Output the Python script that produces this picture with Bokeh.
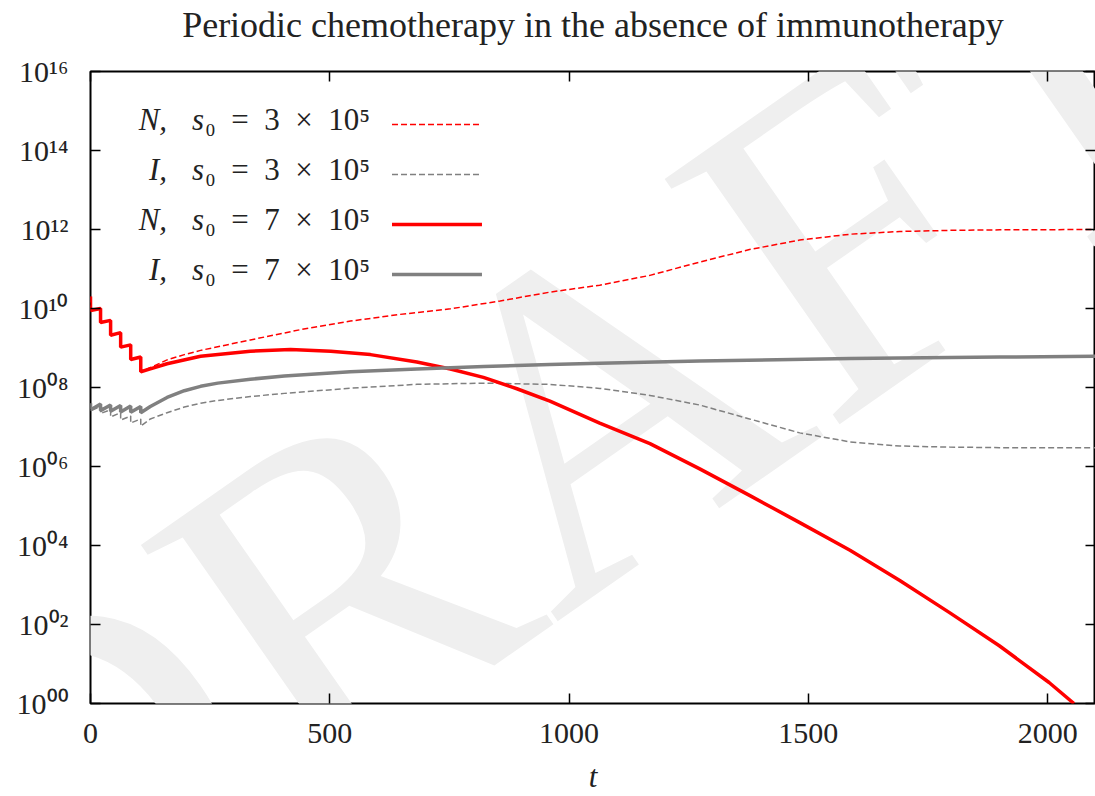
from bokeh.plotting import figure
from bokeh.models import Range1d, FixedTicker, CustomJSTickFormatter, LinearAxis, LogAxis, Label, Arrow
from bokeh.embed import file_html
from bokeh.resources import INLINE

TITLE = "Periodic chemotherapy in the absence of immunotherapy"
X_LABEL = "t"

# --- chemotherapy phase (doses every 21 days, t = 0 ... 105) ---
t_chemo = [0, 0, 21, 21, 42, 42, 63, 63, 84, 84, 105, 105]
N_chemo = [2.0e10, 8.9e9, 1.0e10, 4.4e9, 5.0e9, 2.1e9, 2.45e9, 1.05e9, 1.2e9, 5.1e8, 5.9e8, 2.5e8]
I7_chemo = [4.0e7, 2.7e7, 3.8e7, 2.6e7, 3.6e7, 2.5e7, 3.5e7, 2.4e7, 3.4e7, 2.35e7, 3.3e7, 2.3e7]
I3_chemo = [4.0e7, 2.6e7, 3.3e7, 2.2e7, 2.75e7, 1.8e7, 2.3e7, 1.5e7, 1.9e7, 1.26e7, 1.6e7, 1.05e7]

# --- N, s0 = 3e5 (after chemotherapy) ---
t_N3 = [125, 160, 196, 230, 334, 438, 543, 647, 752, 856, 960, 1064, 1169, 1273, 1377, 1482, 1587,
        1691, 1795, 1900, 2100]
N3 = [3.2e8, 5.0e8, 6.8e8, 8.7e8, 1.6e9, 2.9e9, 4.8e9, 7.1e9, 9.8e9, 1.55e10, 2.6e10, 3.9e10, 6.9e10,
      1.5e11, 3.1e11, 5.4e11, 7.6e11, 8.9e11, 9.5e11, 9.8e11, 1.0e12]

# --- I, s0 = 3e5 ---
t_I3 = [125, 160, 196, 230, 266, 334, 405, 543, 682, 822, 960, 1064, 1169, 1273, 1377, 1482, 1587,
        1691, 1795, 1900, 2100]
I3 = [1.6e7, 2.3e7, 3.2e7, 4.0e7, 4.7e7, 5.9e7, 7.1e7, 9.6e7, 1.2e8, 1.29e8, 1.2e8, 9.5e7, 6.3e7,
      3.6e7, 1.6e7, 7.1e6, 4.2e6, 3.3e6, 3.1e6, 3.0e6, 3.0e6]

# --- N, s0 = 7e5 ---
t_N7 = [125, 160, 230, 334, 418, 502, 585, 682, 752, 821, 891, 960, 1064, 1169, 1273, 1377, 1482,
        1587, 1691, 1795, 1899, 2003, 2055]
N7 = [2.95e8, 4.0e8, 6.2e8, 8.3e8, 9.1e8, 8.3e8, 6.8e8, 4.4e8, 2.95e8, 1.8e8, 9.3e7, 4.5e7,
      1.26e7, 3.8e6, 8.7e5, 1.86e5, 3.8e4, 7.6e3, 1.3e3, 2.0e2, 29.0, 3.4, 1.0]

# --- I, s0 = 7e5 ---
t_I7 = [125, 160, 196, 230, 266, 334, 405, 543, 682, 822, 960, 1064, 1273, 1587, 1900, 2100]
I7 = [3.3e7, 5.6e7, 8.3e7, 1.07e8, 1.29e8, 1.62e8, 1.95e8, 2.5e8, 2.95e8, 3.4e8, 3.8e8, 4.1e8,
      4.7e8, 5.4e8, 5.9e8, 6.2e8]

x_ticks = [0, 500, 1000, 1500, 2000]
y_ticks = [1e0, 1e2, 1e4, 1e6, 1e8, 1e10, 1e12, 1e14, 1e16]
y_tick_labels = ["10\u2070\u2070", "10\u2070\u00b2", "10\u2070\u2074", "10\u2070\u2076", "10\u2070\u2078",
                 "10\u00b9\u2070", "10\u00b9\u00b2", "10\u00b9\u2074", "10\u00b9\u2076"]

legend_names = ["N,", "I,", "N,", "I,"]
legend_s0 = ["\u2080\u2002=\u20023\u2002\u00d7\u200210\u2075", "\u2080\u2002=\u20023\u2002\u00d7\u200210\u2075",
             "\u2080\u2002=\u20027\u2002\u00d7\u200210\u2075", "\u2080\u2002=\u20027\u2002\u00d7\u200210\u2075"]

RED = "#ff0000"
GRAY = "#808080"
FONT = "Liberation Serif"
TXT = "#222222"

p = figure(width=1095, height=796, x_range=Range1d(0, 2100), y_range=Range1d(1, 1e16),
           y_axis_type="log", output_backend="svg", toolbar_location=None,
           min_border_left=90, min_border_right=0, min_border_top=71, min_border_bottom=93)

p.grid.visible = False
p.outline_line_color = "black"
p.outline_line_width = 2
p.background_fill_color = "white"
p.border_fill_color = "white"

# watermark
p.add_layout(Label(x=980, y=8e6, text="DRAFT", angle=0.61, text_font=FONT, text_font_size="460px",
                   text_color="#efefef", text_align="center", text_baseline="middle", level="underlay"))

for ax in [p.xaxis[0], p.yaxis[0]]:
    ax.axis_line_color = None
    ax.major_tick_in = 10
    ax.major_tick_out = 0
    ax.major_tick_line_width = 1.5
    ax.minor_tick_line_color = None
    ax.major_label_text_font = FONT
    ax.major_label_text_font_size = "30px"
    ax.major_label_text_color = TXT

p.xaxis.ticker = FixedTicker(ticks=x_ticks)
p.xaxis.major_label_standoff = 20
p.xaxis.axis_label = X_LABEL
p.xaxis.axis_label_text_font = FONT
p.xaxis.axis_label_text_font_size = "31px"
p.xaxis.axis_label_text_font_style = "italic"
p.xaxis.axis_label_text_color = TXT
p.xaxis.axis_label_standoff = 13

p.yaxis.ticker = FixedTicker(ticks=y_ticks)
p.yaxis.major_label_standoff = 22
p.yaxis.formatter = CustomJSTickFormatter(args=dict(labels=y_tick_labels, tvals=y_ticks), code="""
let best = 0;
for (let i = 0; i < tvals.length; i++) {
  if (Math.abs(Math.log10(tvals[i]) - Math.log10(tick)) < 1e-6) { best = i; }
}
return labels[best];
""")

# mirrored top axis carries the chart title as its axis label
top = LinearAxis(ticker=FixedTicker(ticks=x_ticks), formatter=CustomJSTickFormatter(code="return '';"),
                 major_label_text_font_size="1px", major_label_standoff=0, axis_line_color=None,
                 major_tick_in=10, major_tick_out=0, major_tick_line_width=1.5, minor_tick_line_color=None,
                 axis_label=TITLE, axis_label_text_font=FONT, axis_label_text_font_size="36px",
                 axis_label_text_font_style="normal", axis_label_text_color=TXT, axis_label_standoff=27)
right = LogAxis(ticker=FixedTicker(ticks=y_ticks), formatter=CustomJSTickFormatter(code="return '';"),
                major_label_text_font_size="1px", major_label_standoff=0, axis_line_color=None,
                major_tick_in=10, major_tick_out=0, major_tick_line_width=1.5, minor_tick_line_color=None)
p.add_layout(top, "above")
p.add_layout(right, "right")

# curves
p.line(t_chemo + t_N3, N_chemo + N3, line_color=RED, line_width=1.5, line_dash="6 3")
p.line(t_chemo + t_I3, I3_chemo + I3, line_color=GRAY, line_width=1.5, line_dash="6 3")
p.line(t_chemo + t_N7, N_chemo + N7, line_color=RED, line_width=3.5)
p.line(t_chemo + t_I7, I7_chemo + I7, line_color=GRAY, line_width=3.5)

# legend (glyph on the right of the text, as in the original)
leg_text_y = [6.0e14, 3.3e13, 1.78e12, 9.7e10]
leg_line_y = [4.55e14, 2.46e13, 1.34e12, 7.25e10]
leg_colors = [RED, GRAY, RED, GRAY]
leg_widths = [1.5, 1.5, 3.5, 3.5]
leg_dash = ["6 3", "6 3", "solid", "solid"]
for i in range(4):
    p.add_layout(Label(x=160, y=leg_text_y[i], text=legend_names[i], text_font=FONT, text_font_size="31px",
                       text_font_style="italic", text_align="right", text_baseline="alphabetic",
                       text_color=TXT))
    p.add_layout(Label(x=212, y=leg_text_y[i], text="s", text_font=FONT, text_font_size="31px",
                       text_font_style="italic", text_align="left", text_baseline="alphabetic",
                       text_color=TXT))
    p.add_layout(Label(x=212, x_offset=13, y=leg_text_y[i], text=legend_s0[i], text_font=FONT,
                       text_font_size="31px", text_align="left", text_baseline="alphabetic",
                       text_color=TXT))
    p.add_layout(Arrow(x_start=630, y_start=leg_line_y[i], x_end=818, y_end=leg_line_y[i], end=None,
                       line_color=leg_colors[i], line_width=leg_widths[i], line_dash=leg_dash[i]))

open("out.html", "w").write(file_html(p, INLINE))
